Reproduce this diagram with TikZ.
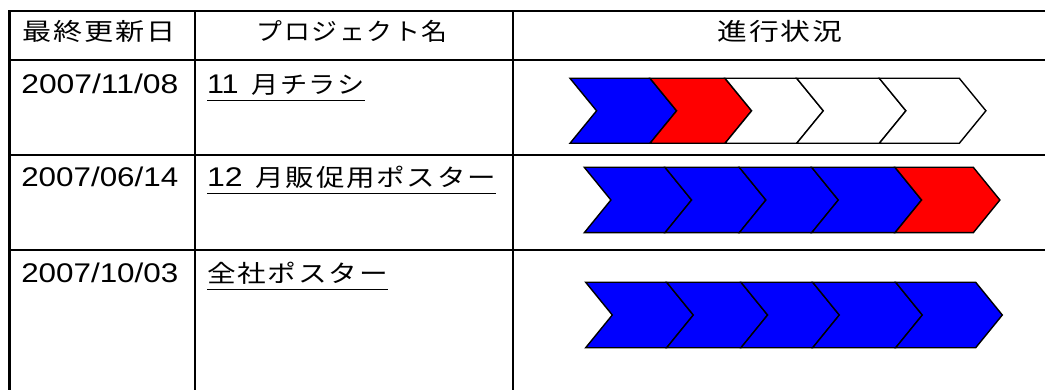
\documentclass[tikz,border=0pt]{standalone}
\usepackage{fontspec}
\usepackage{graphicx}
\setmainfont{Liberation Sans}
\newfontfamily\jp{Noto Sans CJK JP}
\definecolor{chblue}{RGB}{0,0,255}
\definecolor{chred}{RGB}{255,0,0}
\newsavebox\fitbx
\newlength\fitlen
\newcommand\fitto[2]{\sbox\fitbx{#2}\setlength\fitlen{\wd\fitbx}\pgfmathsetmacro\fitf{#1/\fitlen}\scalebox{\fitf}[1]{\usebox\fitbx}}
\newcommand\ks{\kern1.5pt}
\newcommand\lat{\fontsize{27}{30}\selectfont}
\newcommand\cj{\jp\fontsize{24}{28}\selectfont}
\newcommand\dep{26.6}
\newcommand\chev[5]{%
  \filldraw[chevron, fill=#5] (#1,#3) -- (#2,#3) -- ({#2+\dep},{(#3+#4)/2}) -- (#2,#4) -- (#1,#4) -- ({#1+\dep},{(#3+#4)/2}) -- cycle;}
\begin{document}
\begin{tikzpicture}[x=1pt,y=-1pt,
  grid/.style={line width=2.8pt, line cap=rect, line join=miter},
  chevron/.style={draw=black, line width=1.4pt, line join=miter},
  txt/.style={inner sep=0pt, outer sep=0pt},
  uline/.style={line width=1.8pt}]
\useasboundingbox (0,0) rectangle (1045,390);
\fill[white] (0,0) rectangle (1045,390);
% grid
\draw[grid] (9.5,391) -- (9.5,11) -- (1046,11);
\draw[grid] (9.5,60) -- (1046,60);
\draw[grid] (9.5,155) -- (1046,155);
\draw[grid] (9.5,250) -- (1046,250);
\draw[grid] (195,11) -- (195,391);
\draw[grid] (513,11) -- (513,391);
% headers
\node[txt] (h1) at (99,31) {\fitto{153}{\cj 最\ks 終\ks 更\ks 新\ks 日}};
\node[txt] (h2) at (352,31) {\fitto{191}{\cj プ\ks ロ\ks ジ\ks ェ\ks ク\ks ト\ks 名}};
\node[txt] (h3) at (780,31) {\fitto{125}{\cj 進\ks 行\ks 状\ks 況}};
% dates
\node[txt, anchor=base] (d1) at (99.8,94) {\fitto{157}{\lat 2007/11/08}};
\node[txt, anchor=base] (d2) at (99.8,187) {\fitto{157}{\lat 2007/06/14}};
\node[txt, anchor=base] (d3) at (99.8,283) {\fitto{157}{\lat 2007/10/03}};
% projects
\node[txt, anchor=base west] (p1) at (207,94) {\fitto{158}{\lat 11\hskip11pt\cj 月\ks チ\ks ラ\ks シ}};
\node[txt, anchor=base west] (p2) at (207,187) {\fitto{289}{\lat 12\hskip11pt\cj 月\ks 販\ks 促\ks 用\ks ポ\ks ス\ks タ\ks ー}};
\node[txt, anchor=base west] (p3) at (207,283) {\fitto{181}{\cj 全\ks 社\ks ポ\ks ス\ks タ\ks ー}};
\draw[uline] ([yshift=-6.5pt]p1.base west) -- ([yshift=-6.5pt]p1.base east);
\draw[uline] ([yshift=-6.5pt]p2.base west) -- ([yshift=-6.5pt]p2.base east);
\draw[uline] ([yshift=-6.5pt]p3.base west) -- ([yshift=-6.5pt]p3.base east);
% row 1 chevrons
\chev{570}{650}{78.3}{143.3}{chblue}
\chev{650}{725}{78.3}{143.3}{chred}
\chev{725}{796.7}{78.3}{143.3}{white}
\chev{796.7}{879.3}{78.3}{143.3}{white}
\chev{879.3}{959.3}{78.3}{143.3}{white}
% row 2 chevrons
\chev{584.3}{665}{167.3}{232.7}{chblue}
\chev{665}{739.3}{167.3}{232.7}{chblue}
\chev{739.3}{811.7}{167.3}{232.7}{chblue}
\chev{811.7}{895}{167.3}{232.7}{chblue}
\chev{895}{973.3}{167.3}{232.7}{chred}
% row 3 chevrons
\chev{585.7}{666.7}{282.3}{347.7}{chblue}
\chev{666.7}{741}{282.3}{347.7}{chblue}
\chev{741}{812.7}{282.3}{347.7}{chblue}
\chev{812.7}{895.7}{282.3}{347.7}{chblue}
\chev{895.7}{975.7}{282.3}{347.7}{chblue}
\end{tikzpicture}
\end{document}
